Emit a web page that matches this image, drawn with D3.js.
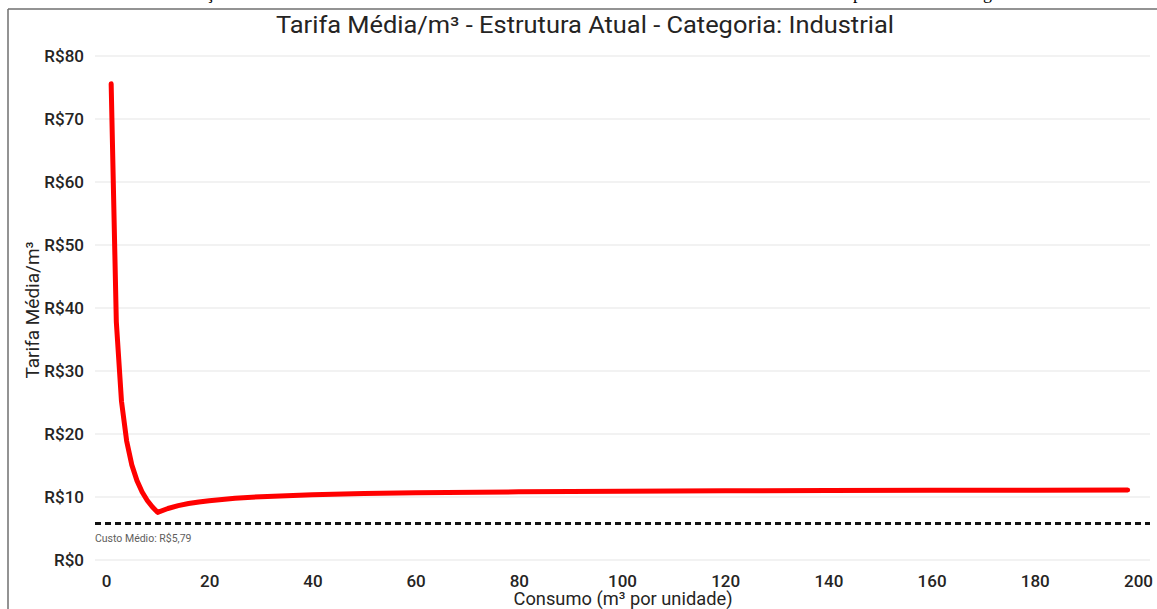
<!DOCTYPE html>
<html>
<head>
<meta charset="utf-8">
<script src="https://cdn.jsdelivr.net/npm/d3@7"></script>
<style>
  body { margin: 0; background: #fff; }
  svg { display: block; font-family: Roboto, "DejaVu Sans", sans-serif; }
</style>
</head>
<body>
<svg id="chart" width="1157" height="609"></svg>
<script>
// Consumo (m³) and average tariff per m³
const consumo = [1, 2, 3, 4, 5, 6, 7, 8, 9, 10, 12, 14, 16, 18, 20, 25, 30, 40, 50, 60, 80, 100, 120, 140, 160, 180, 198];
const tarifa = [75.6, 37.8, 25.2, 18.9, 15.1, 12.6, 10.8, 9.45, 8.4, 7.56, 8.18, 8.63, 8.96, 9.22, 9.42, 9.8, 10.05, 10.36, 10.54, 10.67, 10.82, 10.92, 10.98, 11.03, 11.06, 11.09, 11.1];
const xTicks = [0, 20, 40, 60, 80, 100, 120, 140, 160, 180, 200];
const yTicks = [0, 10, 20, 30, 40, 50, 60, 70, 80];
const custoMedio = 5.79;

const svg = d3.select("#chart");
const textColor = "#252423";

const x = d3.scaleLinear().domain([0, 200]).range([106, 1138]);
const y = d3.scaleLinear().domain([0, 80]).range([560, 56]);
const gridLeft = 95, gridRight = 1150;

// Frame from the surrounding document
svg.append("line").attr("x1", 8).attr("x2", 1157).attr("y1", 9).attr("y2", 9)
  .attr("stroke", "#6f6f6f").attr("stroke-width", 1.5);
svg.append("line").attr("x1", 8).attr("x2", 8).attr("y1", 9).attr("y2", 609)
  .attr("stroke", "#6f6f6f").attr("stroke-width", 1.5);

// Cut-off caption text above the frame
const caption = svg.append("g").attr("font-family", "'Liberation Serif', serif").attr("font-size", 18).attr("fill", "#000");
caption.append("text").attr("x", 206).attr("y", -1).text("ç");
caption.append("text").attr("x", 853).attr("y", -1).text("p");
caption.append("text").attr("x", 983).attr("y", -1).text("g");

// Title
svg.append("text")
  .attr("x", 585).attr("y", 33)
  .attr("text-anchor", "middle")
  .attr("font-size", 23)
  .attr("textLength", 618)
  .attr("lengthAdjust", "spacingAndGlyphs")
  .attr("fill", textColor)
  .text("Tarifa Média/m³ - Estrutura Atual - Categoria: Industrial");

// Gridlines
svg.append("g").selectAll("line")
  .data(yTicks)
  .join("line")
  .attr("x1", gridLeft).attr("x2", gridRight)
  .attr("y1", d => y(d)).attr("y2", d => y(d))
  .attr("stroke", "#eeeeee").attr("stroke-width", 1.5);

// Y axis
const yAxis = svg.append("g")
  .attr("transform", `translate(${gridLeft - 11},0)`)
  .call(d3.axisLeft(y).tickValues(yTicks).tickSize(0).tickPadding(0).tickFormat(d => "R$" + d));
yAxis.select(".domain").remove();
yAxis.selectAll("text").attr("font-size", 17).attr("font-weight", 500).attr("fill", textColor).attr("font-family", "Roboto, sans-serif");

// X axis
const xAxis = svg.append("g")
  .attr("transform", `translate(0,573)`)
  .call(d3.axisBottom(x).tickValues(xTicks).tickSize(0).tickPadding(2));
xAxis.select(".domain").remove();
xAxis.selectAll("text").attr("font-size", 17).attr("font-weight", 500).attr("fill", textColor).attr("font-family", "Roboto, sans-serif");

// Axis titles
svg.append("text")
  .attr("transform", "translate(39,310) rotate(-90)")
  .attr("text-anchor", "middle")
  .attr("font-size", 18)
  .attr("textLength", 137)
  .attr("lengthAdjust", "spacingAndGlyphs")
  .attr("fill", textColor)
  .text("Tarifa Média/m³");

svg.append("text")
  .attr("x", 623).attr("y", 605)
  .attr("text-anchor", "middle")
  .attr("font-size", 18)
  .attr("textLength", 219)
  .attr("lengthAdjust", "spacingAndGlyphs")
  .attr("fill", textColor)
  .text("Consumo (m³ por unidade)");

// Average cost reference line
svg.append("line")
  .attr("x1", gridLeft).attr("x2", gridRight)
  .attr("y1", y(custoMedio)).attr("y2", y(custoMedio))
  .attr("stroke", "#111").attr("stroke-width", 3)
  .attr("stroke-dasharray", "6,4");
svg.append("text")
  .attr("x", gridLeft).attr("y", y(custoMedio) + 18)
  .attr("font-size", 10.5)
  .attr("fill", "#605e5c")
  .text("Custo Médio: R$5,79");

// Tariff line
const line = d3.line()
  .x((d, i) => x(consumo[i]))
  .y(d => y(d));
svg.append("path")
  .datum(tarifa)
  .attr("fill", "none")
  .attr("stroke", "#ff0000")
  .attr("stroke-width", 5)
  .attr("stroke-linejoin", "round")
  .attr("stroke-linecap", "round")
  .attr("d", line);
</script>
</body>
</html>
